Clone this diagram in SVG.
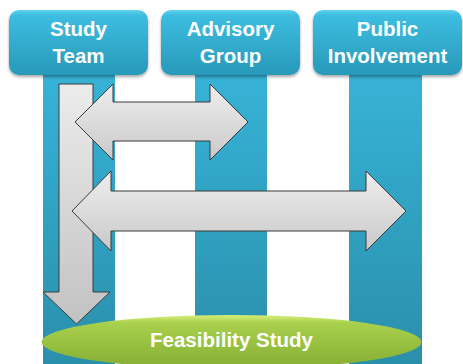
<svg xmlns="http://www.w3.org/2000/svg" width="463" height="364" viewBox="0 0 463 364">
<defs>
<linearGradient id="colG" x1="0" y1="0" x2="0" y2="1">
<stop offset="0" stop-color="#37b3d7"/>
<stop offset="1" stop-color="#2a8fab"/>
</linearGradient>
<linearGradient id="boxG" x1="0" y1="0" x2="0" y2="1">
<stop offset="0" stop-color="#5fd3ef"/>
<stop offset="0.08" stop-color="#3dbde0"/>
<stop offset="1" stop-color="#2899b9"/>
</linearGradient>
<linearGradient id="arrG" x1="0" y1="0" x2="0" y2="1">
<stop offset="0" stop-color="#eeeeee"/>
<stop offset="1" stop-color="#c9c9c9"/>
</linearGradient>
<linearGradient id="arrV" x1="0" y1="0" x2="0" y2="1">
<stop offset="0" stop-color="#ececec"/>
<stop offset="1" stop-color="#c2c2c2"/>
</linearGradient>
<linearGradient id="ellG" x1="0" y1="0" x2="0" y2="1">
<stop offset="0" stop-color="#d6ee7a"/>
<stop offset="0.15" stop-color="#a9d04c"/>
<stop offset="1" stop-color="#84ad33"/>
</linearGradient>
<filter id="sh" x="-10%" y="-10%" width="120%" height="130%">
<feDropShadow dx="0" dy="2" stdDeviation="1.5" flood-color="#000" flood-opacity="0.35"/>
</filter>
</defs>
<style>
.col{fill:url(#colG);}
.box{fill:url(#boxG);filter:url(#sh);}
.lbl{font-family:"Liberation Sans",Arial,sans-serif;font-weight:bold;font-size:20.5px;fill:#ffffff;text-anchor:middle;}
.arr{fill:url(#arrG);stroke:#3a3a3a;stroke-width:1;stroke-linejoin:miter;}
</style>
<rect width="463" height="364" fill="#ffffff"/>
<g id="study-team">
<rect class="col" x="43" y="70" width="72" height="294"/>
<rect class="box" x="9" y="10" width="139" height="65" rx="10"/>
<text class="lbl" x="78.5" y="36">Study</text>
<text class="lbl" x="78.5" y="63">Team</text>
</g>
<g id="advisory-group">
<rect class="col" x="195" y="70" width="72" height="294"/>
<rect class="box" x="161" y="10" width="139" height="65" rx="10"/>
<text class="lbl" x="230.5" y="36">Advisory</text>
<text class="lbl" x="230.5" y="63">Group</text>
</g>
<g id="public-involvement">
<rect class="col" x="349" y="70" width="73" height="294"/>
<rect class="box" x="313" y="10" width="149" height="65" rx="10"/>
<text class="lbl" x="387.5" y="36">Public</text>
<text class="lbl" x="387.5" y="63">Involvement</text>
</g>
<g id="connectors">
<path class="arr" style="fill:url(#arrV)" d="M59,84 H93 V292 H110 L76.5,324 L43,292 H59 Z"/>
<path class="arr" d="M75,122 L113,84 V102 H210 V84 L248,122 L210,160 V141 H113 V160 Z"/>
<path class="arr" d="M72,211 L111,171 V191 H366 V171 L406,211 L366,251 V231 H111 V251 Z"/>
</g>
<g id="feasibility-study">
<ellipse cx="231.5" cy="342" rx="190" ry="27" fill="url(#ellG)"/>
<text class="lbl" x="231.5" y="347">Feasibility Study</text>
</g>
</svg>
